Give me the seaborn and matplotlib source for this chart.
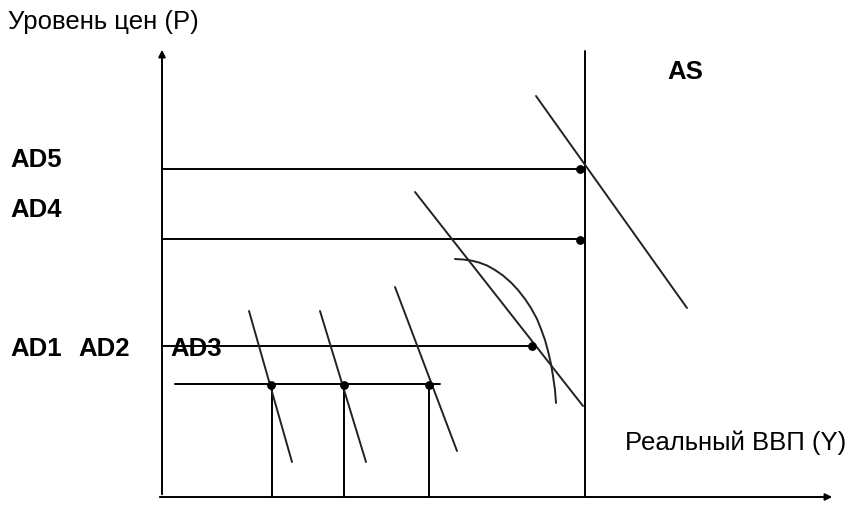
import matplotlib
matplotlib.use("Agg")
import matplotlib.pyplot as plt
import seaborn as sns

sns.set_theme(style="white")
plt.rcParams['font.family'] = ['Liberation Sans', 'DejaVu Sans']
plt.rcParams['text.color'] = 'black'

# Diagram data (schematic units; x = output, y = price level)
Y_axis_x = 162
X_axis_y = 8
AS_x = 585
price_levels = [336, 266, 159, 121]          # P5, P4, P3, P1..P3 common level
price_line_start = [162, 162, 162, 175]
price_line_end = [582, 582, 532, 440]
output_levels = [272, 344, 429]              # Y1, Y2, Y3
AD_x_top = [249, 320, 395, 415, 536]
AD_y_top = [194, 194, 218, 313, 409]
AD_x_bot = [292, 366, 457, 583, 687]
AD_y_bot = [43, 43, 54, 99, 197]
curve_x = [455, 463, 471, 479, 487, 495, 503, 511, 518, 525, 531, 537, 541, 545, 548, 551, 553, 555, 556]
curve_y = [246, 245.5, 244.5, 242.5, 239.5, 235, 229.5, 222.5, 215, 206, 197, 186, 176, 165, 154, 141, 129, 115, 102]
eq_x = [580, 580, 532, 271, 344, 429]
eq_y = [336, 265, 159, 120, 120, 120]

fig = plt.figure(figsize=(8.55, 5.06), dpi=100)
ax = fig.add_axes([0, 0, 1, 1])
ax.set_xlim(0, 855)
ax.set_ylim(0, 506)
ax.set_axis_off()

lw = 1.4
col = "black"

def seg(xs, ys, c=col):
    sns.lineplot(x=xs, y=ys, color=c, lw=lw, ax=ax, sort=False,
                 estimator=None, errorbar=None)

# axes arrows
ax.annotate("", xy=(Y_axis_x, 458), xytext=(Y_axis_x, X_axis_y),
            arrowprops=dict(arrowstyle="-|>", color=col, lw=lw, mutation_scale=10))
ax.annotate("", xy=(835, X_axis_y), xytext=(157, X_axis_y),
            arrowprops=dict(arrowstyle="-|>", color=col, lw=lw, mutation_scale=10))

# vertical AS
seg([AS_x, AS_x], [X_axis_y, 454])

# horizontal price lines
for y, x0, x1 in zip(price_levels, price_line_start, price_line_end):
    seg([x0, x1], [y, y])

# vertical output lines
for x in output_levels:
    seg([x, x], [X_axis_y, price_levels[3]])

# AD lines
for xa, ya, xb, yb in zip(AD_x_top, AD_y_top, AD_x_bot, AD_y_bot):
    seg([xa, xb], [ya, yb], "#222222")

# curved segment
seg(curve_x, curve_y, "#222222")

# equilibrium dots
sns.scatterplot(x=eq_x, y=eq_y, color=col, s=40, ax=ax, zorder=5, linewidth=0)

fs = 18.5
ax.text(8, 484, "Уровень цен (P)", fontsize=fs, va="center", ha="left")
ax.text(625, 63, "Реальный ВВП (Y)", fontsize=fs, va="center", ha="left")
ax.text(667, 434, "AS", fontsize=fs, fontweight="bold", va="center", ha="left")
ax.text(10, 346, "AD5", fontsize=fs, fontweight="bold", va="center", ha="left")
ax.text(10, 296, "AD4", fontsize=fs, fontweight="bold", va="center", ha="left")
ax.text(10, 157, "AD1", fontsize=fs, fontweight="bold", va="center", ha="left")
ax.text(78, 157, "AD2", fontsize=fs, fontweight="bold", va="center", ha="left")
ax.text(170, 157, "AD3", fontsize=fs, fontweight="bold", va="center", ha="left")

fig.savefig("out.png", dpi=100)
